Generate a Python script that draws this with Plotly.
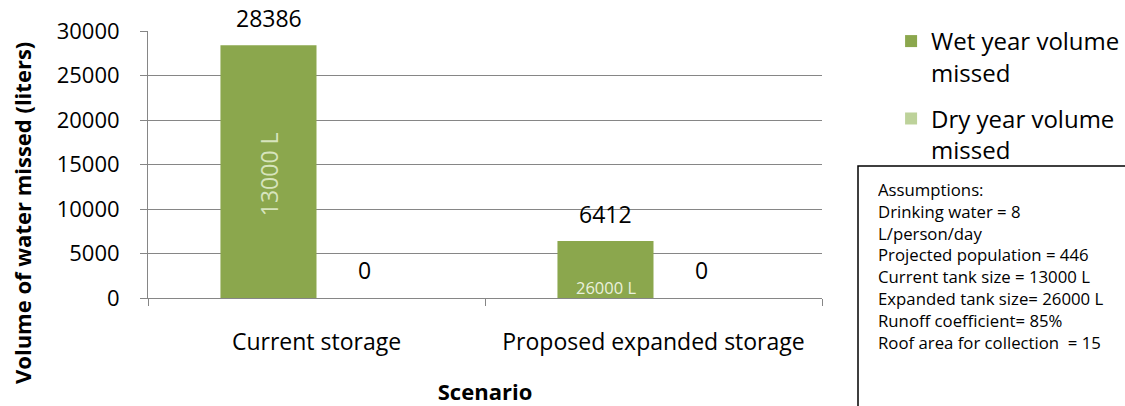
import plotly.graph_objects as go

categories = ["Current storage", "Proposed expanded storage"]
wet_missed = [28386, 6412]
dry_missed = [0, 0]
tank_labels = ["13000 L", "26000 L"]
series_names = ["Wet year volume<br>missed", "Dry year volume<br>missed"]
y_ticks = [0, 5000, 10000, 15000, 20000, 25000, 30000]
assumptions = [
    "Assumptions:",
    "Drinking water = 8",
    "L/person/day",
    "Projected population = 446",
    "Current tank size = 13000 L",
    "Expanded tank size= 26000 L",
    "Runoff coefficient= 85%",
    "Roof area for collection  = 15",
]

WET = "#8BA74D"
DRY = "#BDD29A"
GRID = "#868686"
FONT = "Open Sans"

W, H = 1125, 406
L, R, T, B = 148, 303, 31, 108
PW, PH = W - L - R, H - T - B


def px_x(x):
    return (x - L) / PW


def px_y(y):
    return (H - B - y) / PH


fig = go.Figure()
fig.add_trace(go.Bar(x=categories, y=wet_missed, name=series_names[0],
                     marker=dict(color=WET, line_width=0), legendgroup="a"))
fig.add_trace(go.Bar(x=categories, y=dry_missed, name=series_names[1],
                     marker=dict(color=DRY, line_width=0), legendgroup="b"))

ann = []
for cat, v in zip(categories, wet_missed):
    ann.append(dict(x=cat, y=v, xref="x", yref="y", text=str(v), showarrow=False,
                    xshift=-48, yshift=27, yanchor="middle",
                    font=dict(family=FONT, size=23, color="#000000")))
for cat, v in zip(categories, dry_missed):
    ann.append(dict(x=cat, y=v, xref="x", yref="y", text=str(v), showarrow=False,
                    xshift=48, yshift=28, yanchor="middle",
                    font=dict(family=FONT, size=23, color="#000000")))
ann.append(dict(x=categories[0], y=wet_missed[0] / 2, xref="x", yref="y",
                text=tank_labels[0], showarrow=False, textangle=-90,
                xshift=-48, yshift=-3,
                font=dict(family=FONT, size=23, color="#D7E4BD")))
ann.append(dict(x=categories[1], y=0, xref="x", yref="y",
                text=tank_labels[1], showarrow=False,
                xshift=-48, yshift=11, yanchor="middle",
                font=dict(family=FONT, size=16.5, color="#EAF1DD")))
for i, line in enumerate(assumptions):
    ann.append(dict(x=px_x(877), y=px_y(190 + i * 21.8), xref="paper", yref="paper",
                    xanchor="left", yanchor="middle", align="left", showarrow=False,
                    width=W - 877, height=21.8, borderpad=0,
                    text=line, font=dict(family=FONT, size=16.75, color="#000000")))
ann.append(dict(x=px_x(22), y=px_y(213), xref="paper", yref="paper",
                xanchor="center", yanchor="middle", showarrow=False, textangle=-90,
                text="<b>Volume of water missed (liters)</b>",
                font=dict(family=FONT, size=22, color="#000000")))

fig.update_layout(
    width=W, height=H,
    margin=dict(l=L, r=R, t=T, b=B, autoexpand=False),
    paper_bgcolor="white", plot_bgcolor="white",
    barmode="group", bargap=0.43, bargroupgap=0,
    font=dict(family=FONT, size=20, color="#000000"),
    showlegend=True,
    legend=dict(x=1.1025, y=1.045, xanchor="left", yanchor="top",
                font=dict(family=FONT, size=24, color="#000000"),
                valign="top", itemwidth=30, tracegroupgap=12,
                bgcolor="rgba(0,0,0,0)"),
    annotations=ann,
    shapes=[dict(type="rect", xref="paper", yref="paper",
                 x0=px_x(858), x1=px_x(W + 300), y0=px_y(H + 300), y1=px_y(166),
                 line=dict(color="#000000", width=1.5), fillcolor="rgba(0,0,0,0)")],
)

fig.update_yaxes(range=[0, 30000], tickvals=y_ticks, tickformat="d",
                 showgrid=True, gridcolor=GRID, gridwidth=1,
                 showline=True, linecolor=GRID, linewidth=1,
                 ticks="outside", ticklen=7, tickcolor=GRID,
                 tickfont=dict(family=FONT, size=22), ticklabelstandoff=16,
                 zeroline=False, automargin=False)
fig.update_xaxes(showline=True, linecolor=GRID, linewidth=1,
                 ticks="outside", ticklen=7, tickcolor=GRID, tickson="boundaries",
                 tickfont=dict(family=FONT, size=23), ticklabelstandoff=23,
                 automargin=False,
                 title=dict(text="<b>Scenario</b>", font=dict(family=FONT, size=22),
                            standoff=32))

fig.write_html(
    "out.html", config={"displayModeBar": False},
    post_script=("document.documentElement.style.overflow='hidden';"
                 "document.body.style.margin='0';document.body.style.padding='0';"
                 "document.body.style.overflow='hidden';"
                 "var d=document.getElementById('{plot_id}');d.style.overflow='hidden';"),
)
